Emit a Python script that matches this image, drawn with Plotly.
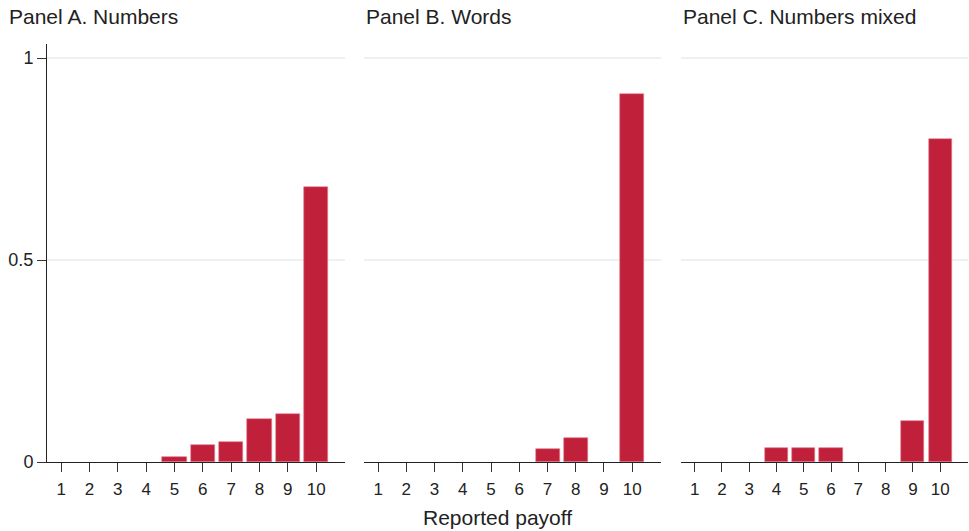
import plotly.graph_objects as go

# reported payoff categories
payoffs = [1, 2, 3, 4, 5, 6, 7, 8, 9, 10]
tick_text = [str(p) for p in payoffs]

# share of subjects reporting each payoff
numbers_share = [0, 0, 0, 0, 0.012, 0.041, 0.050, 0.107, 0.118, 0.681]
words_share = [0, 0, 0, 0, 0, 0, 0.031, 0.060, 0, 0.911]
mixed_share = [0, 0, 0, 0.035, 0.035, 0.035, 0, 0, 0.102, 0.800]

panel_titles = ["Panel A. Numbers", "Panel B. Words", "Panel C. Numbers mixed"]

bar_col = "#c1203a"
font_fam = "Liberation Sans, Arial, Helvetica, sans-serif"

fig = go.Figure()

panels = [numbers_share, words_share, mixed_share]
domains = [[0, 0.3236], [0.3442, 0.6667], [0.6884, 1.0]]

for i, vals in enumerate(panels):
    n = "" if i == 0 else str(i + 1)
    # zero-height bars are left out, like in the original
    xs = [p for p, v in zip(payoffs, vals) if v > 0]
    ys = [v for v in vals if v > 0]
    fig.add_trace(go.Bar(x=xs, y=ys, width=0.85, marker_color=bar_col,
                         marker_line=dict(width=0.6, color="#e2808f"),
                         xaxis="x" + n, yaxis="y" + n, showlegend=False))

    fig.update_layout({
        "xaxis" + n: dict(domain=domains[i], anchor="y" + n, range=[0.5, 11.02],
                          tickvals=payoffs, ticktext=tick_text, ticks="outside",
                          ticklen=9, tickcolor="#333", showline=True, linecolor="#222",
                          linewidth=1, showgrid=False, zeroline=False,
                          ticklabelstandoff=3,
                          tickfont=dict(size=17, color="#222")),
        "yaxis" + n: dict(anchor="x" + n, range=[0, 1.035], tickvals=[0, 0.5, 1],
                          ticktext=["0", "0.5", "1"], showgrid=True, gridcolor="#edf1f1",
                          gridwidth=1.5, zeroline=False,
                          showline=(i == 0), linecolor="#222", linewidth=1,
                          ticks="outside" if i == 0 else "", ticklen=9, tickcolor="#333",
                          showticklabels=(i == 0),
                          tickfont=dict(size=18, color="#222")),
    })

    fig.add_annotation(text=panel_titles[i], xref="paper", yref="paper",
                       x=domains[i][0] if i > 0 else -40 / 921, y=1.0,
                       yshift=41, xanchor="left", yanchor="top", showarrow=False,
                       font=dict(size=21, color="#222"))

fig.add_annotation(text="Reported payoff", xref="paper", yref="paper", x=(497 - 47) / 921,
                   y=0, yshift=-42, xanchor="center", yanchor="top", showarrow=False,
                   font=dict(size=21, color="#222"))

fig.update_layout(width=969, height=531, margin=dict(l=47, r=1, t=44, b=69),
                  plot_bgcolor="white", paper_bgcolor="white", bargap=0,
                  font=dict(family=font_fam, color="#222"))

# the page body has an 8px margin by default; drop it so the figure fills the window
fig.write_html("out.html", config={"displayModeBar": False},
               post_script="document.body.style.margin='0';")
